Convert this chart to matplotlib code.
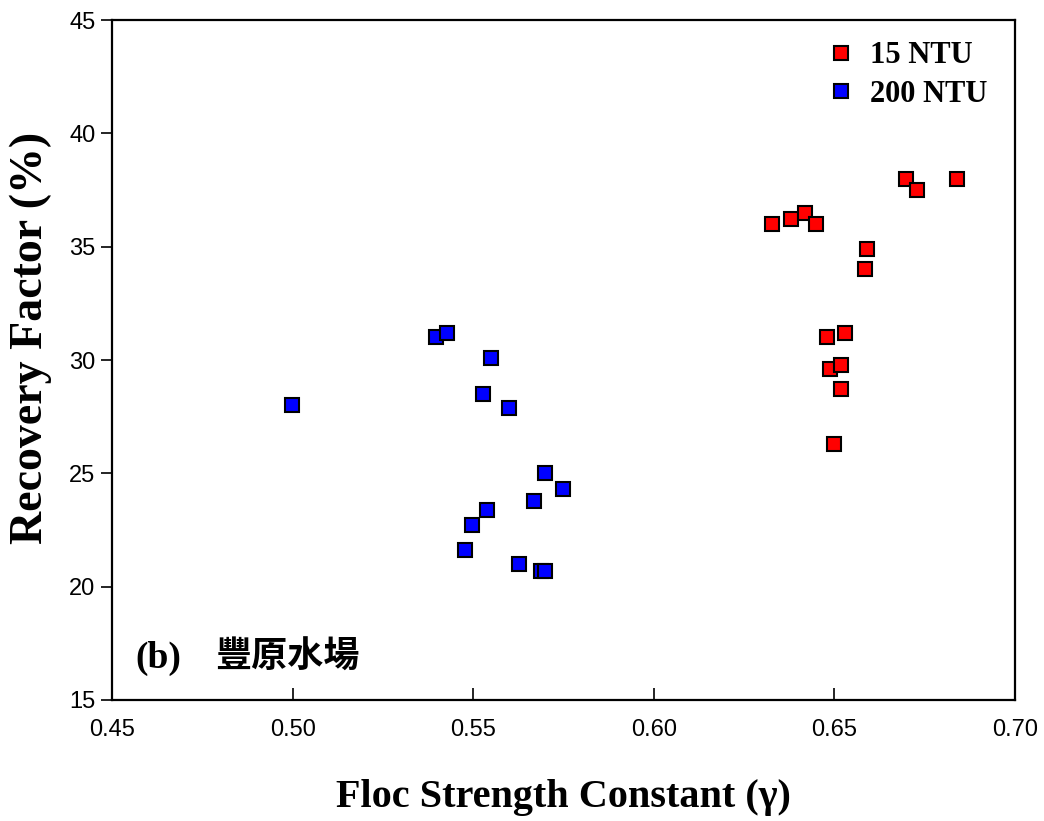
import matplotlib.pyplot as plt

# Data
gamma_15 = [0.6327, 0.6379, 0.6420, 0.6448, 0.6589, 0.6586, 0.6699, 0.6728,
            0.6839, 0.6479, 0.6530, 0.6488, 0.6519, 0.6519, 0.6498]
rf_15 = [36.0, 36.2, 36.5, 36.0, 34.9, 34.0, 38.0, 37.5,
         38.0, 31.0, 31.2, 29.6, 29.8, 28.7, 26.3]

gamma_200 = [0.4998, 0.5398, 0.5428, 0.5548, 0.5527, 0.5598, 0.5698, 0.5748,
             0.5669, 0.5538, 0.5498, 0.5478, 0.5628, 0.5689, 0.5698]
rf_200 = [28.0, 31.0, 31.2, 30.1, 28.5, 27.9, 25.0, 24.3,
          23.8, 23.4, 22.7, 21.6, 21.0, 20.7, 20.7]

labels = ['15 NTU', '200 NTU']
x_ticks = [0.45, 0.50, 0.55, 0.60, 0.65, 0.70]
y_ticks = [15, 20, 25, 30, 35, 40, 45]

SERIF = ['Liberation Serif', 'Noto Sans CJK TC']
SANS = 'Liberation Sans'

fig = plt.figure(figsize=(10.44, 8.21), dpi=100)
ax = fig.add_axes([0.1073, 0.1474, 0.8649, 0.8282])

ax.plot(gamma_15, rf_15, 's', color='#ff0000', markeredgecolor='black',
        markeredgewidth=1.5, markersize=10, label=labels[0])
ax.plot(gamma_200, rf_200, 's', color='#0000ff', markeredgecolor='black',
        markeredgewidth=1.5, markersize=10, label=labels[1])

ax.set_xlim(0.45, 0.70)
ax.set_ylim(15, 45)
ax.set_xticks(x_ticks)
ax.set_yticks(y_ticks)
ax.set_xticklabels(['%.2f' % t for t in x_ticks], family=SANS, fontsize=17)
ax.set_yticklabels([str(t) for t in y_ticks], family=SANS, fontsize=17)
ax.tick_params(axis='x', direction='in', length=9, width=1.2, pad=14)
ax.tick_params(axis='y', direction='out', length=8, width=1.2, pad=4)
for s in ax.spines.values():
    s.set_linewidth(1.6)

ax.set_xlabel('Floc Strength Constant (\u03b3)', family=SERIF,
              fontweight='bold', fontsize=29)
ax.set_ylabel('Recovery Factor (%)', family=SERIF, fontweight='bold',
              fontsize=33)
ax.xaxis.set_label_coords(0.5, -0.143)
ax.yaxis.set_label_coords(-0.09, 0.533)
ax.xaxis.label.set_va('center')
ax.yaxis.label.set_va('center')

leg = ax.legend(loc='upper right', bbox_to_anchor=(0.9927, 1.0),
                frameon=False, markerscale=0.95,
                handlelength=1.0, handletextpad=0.45, labelspacing=0.31,
                borderaxespad=0.3,
                prop={'family': SERIF, 'weight': 'bold', 'size': 22})

ax.text(0.0255, 0.047, '(b)', transform=ax.transAxes, family=SERIF,
        fontweight='bold', fontsize=27, va='baseline')
ax.text(0.114, 0.047, '豐原水場', transform=ax.transAxes, family=SERIF,
        fontweight='bold', fontsize=26, va='baseline')

fig.savefig('out.png', dpi=100)
